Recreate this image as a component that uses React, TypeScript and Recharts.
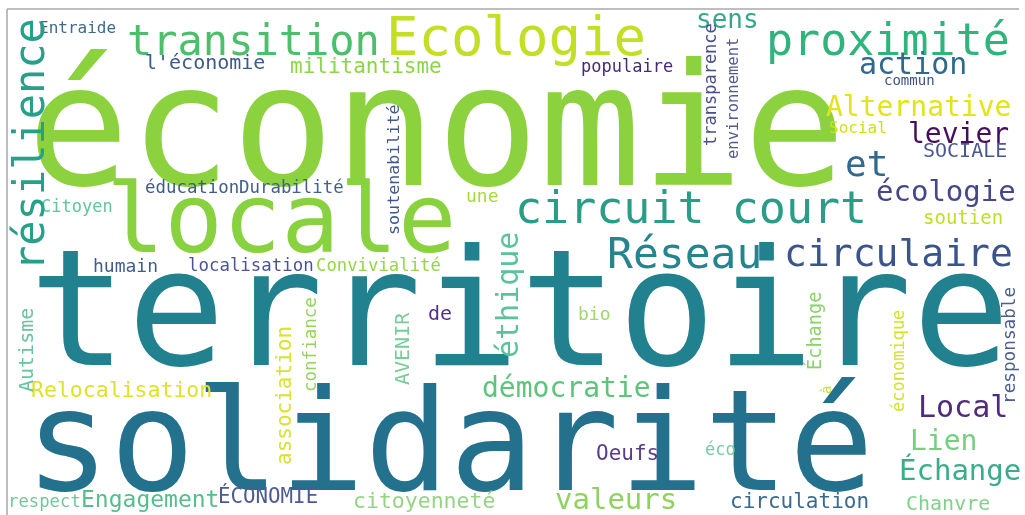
import React from "react";
import { ScatterChart, Scatter, XAxis, YAxis, ReferenceLine } from "recharts";

// [text, weight (font size), x, y, colour]
type W = [string, number, number, number, string];

const BIG_WORDS: W[] = [
  ["économie", 170, 27, 185, "#8cd23f"],
  ["territoire", 163, 29, 365, "#21818e"],
  ["solidarité", 141, 25, 490, "#24718e"],
  ["locale", 97, 106, 252, "#88d13f"],
];

const MID_WORDS: W[] = [
  ["transition", 42, 127, 55, "#4cbf6b"],
  ["Ecologie", 54, 386, 55, "#c2df23"],
  ["proximité", 45, 766, 55, "#2fb47c"],
  ["circuit court", 45, 515, 223, "#2a9d87"],
  ["Réseau", 43, 607, 268, "#25858e"],
  ["circulaire", 38, 784, 266, "#3a548c"],
  ["et", 36, 845, 176, "#31688e"],
  ["action", 30, 859, 74, "#31688e"],
  ["Alternative", 28, 826, 116, "#e3e418"],
  ["levier", 28, 908, 143, "#440f5f"],
  ["écologie", 29, 876, 201, "#45478a"],
  ["démocratie", 28, 482, 397, "#5cc47b"],
  ["Local", 30, 918, 417, "#4f2b7d"],
  ["Lien", 28, 910, 450, "#74cf7f"],
  ["Échange", 29, 899, 480, "#38ad8a"],
  ["valeurs", 29, 555, 509, "#8fd35f"],
  ["sens", 26, 696, 28, "#35a68a"],
];

const SMALL_WORDS: W[] = [
  ["Entraide", 16, 39, 33, "#3e6a8c"],
  ["l'économie", 20, 145, 69, "#3b5b8b"],
  ["militantisme", 21, 290, 73, "#8bd646"],
  ["populaire", 17, 581, 72, "#482878"],
  ["commun", 14, 884, 85, "#3b528b"],
  ["Social", 16, 829, 133, "#cde11d"],
  ["SOCIALE", 20, 923, 157, "#4a5890"],
  ["soutien", 19, 923, 224, "#bfdf25"],
  ["éducation", 17.4, 145, 193, "#3f5b8c"],
  ["Durabilité", 17.4, 239, 193, "#435f8f"],
  ["Citoyen", 17, 41, 212, "#62c49a"],
  ["une", 18, 466, 202, "#a5db36"],
  ["humain", 18, 93, 272, "#3f5d8c"],
  ["localisation", 17.4, 188, 271, "#485495"],
  ["Convivialité", 17.3, 316, 271, "#94d648"],
  ["de", 20, 428, 320, "#54308a"],
  ["bio", 18, 578, 320, "#9fd86b"],
  ["Relocalisation", 21.5, 31, 397, "#dfe227"],
  ["Oeufs", 21, 596, 460, "#5a3c8a"],
  ["éco", 17, 705, 455, "#79c9a5"],
  ["citoyenneté", 21.5, 353, 508, "#96d484"],
  ["circulation", 21, 730, 508, "#3b6a8e"],
  ["Chanvre", 20, 906, 510, "#80d18a"],
  ["respect", 17.3, 8, 507, "#74c79a"],
  ["Engagement", 23, 81, 507, "#55be8c"],
  ["ÉCONOMIE", 20.8, 218, 503, "#4e5a92"],
];

const VERTICAL_WORDS: W[] = [
  ["résilience", 42, 44, 271, "#27a08a"],
  ["Autisme", 20, 33, 392, "#66c4a0"],
  ["association", 21, 291, 465, "#d9e22c"],
  ["confiance", 17.5, 316, 392, "#92d45f"],
  ["AVENIR", 20, 409, 385, "#78cc97"],
  ["éthique", 30, 518, 358, "#5cc29a"],
  ["soutenabilité", 16.7, 399, 235, "#3f5a8e"],
  ["transparence", 17, 716, 146, "#494f8d"],
  ["environnement", 15.5, 738, 159, "#525a93"],
  ["Échange", 18.6, 821, 370, "#88d36a"],
  ["à", 14, 831, 394, "#c8df3a"],
  ["économique", 17, 904, 412, "#d4e22c"],
  ["responsable", 17.7, 1015, 404, "#4c5f90"],
];

const toPoints = (arr: W[], vertical: boolean) =>
  arr.map(([text, size, x, y, color]) => ({ text, size, x, y, color, vertical }));

const WordShape = (props: any) => {
  const { cx, cy, payload } = props;
  if (cx == null || cy == null || !payload) return <g />;
  return (
    <text
      x={cx}
      y={cy}
      fontSize={payload.size}
      fill={payload.color}
      fontFamily="'DejaVu Sans Mono', monospace"
      transform={payload.vertical ? `rotate(-90 ${cx} ${cy})` : undefined}
    >
      {payload.text}
    </text>
  );
};

export default function App() {
  return (
    <div style={{ position: "absolute", left: 0, top: 0, background: "#fff", filter: "blur(0.4px)" }}>
      <ScatterChart width={1025} height={515} margin={{ top: 0, right: 0, bottom: 0, left: 0 }}>
        <XAxis type="number" dataKey="x" domain={[0, 1025]} hide />
        <YAxis type="number" dataKey="y" domain={[0, 515]} reversed hide />
        <ReferenceLine segment={[{ x: 7, y: 9 }, { x: 1019, y: 9 }]} stroke="#a8a8a8" strokeWidth={1.5} />
        <ReferenceLine segment={[{ x: 7, y: 9 }, { x: 7, y: 515 }]} stroke="#a8a8a8" strokeWidth={1.5} />
        <Scatter data={toPoints(BIG_WORDS, false)} shape={WordShape} isAnimationActive={false} />
        <Scatter data={toPoints(MID_WORDS, false)} shape={WordShape} isAnimationActive={false} />
        <Scatter data={toPoints(SMALL_WORDS, false)} shape={WordShape} isAnimationActive={false} />
        <Scatter data={toPoints(VERTICAL_WORDS, true)} shape={WordShape} isAnimationActive={false} />
      </ScatterChart>
    </div>
  );
}
